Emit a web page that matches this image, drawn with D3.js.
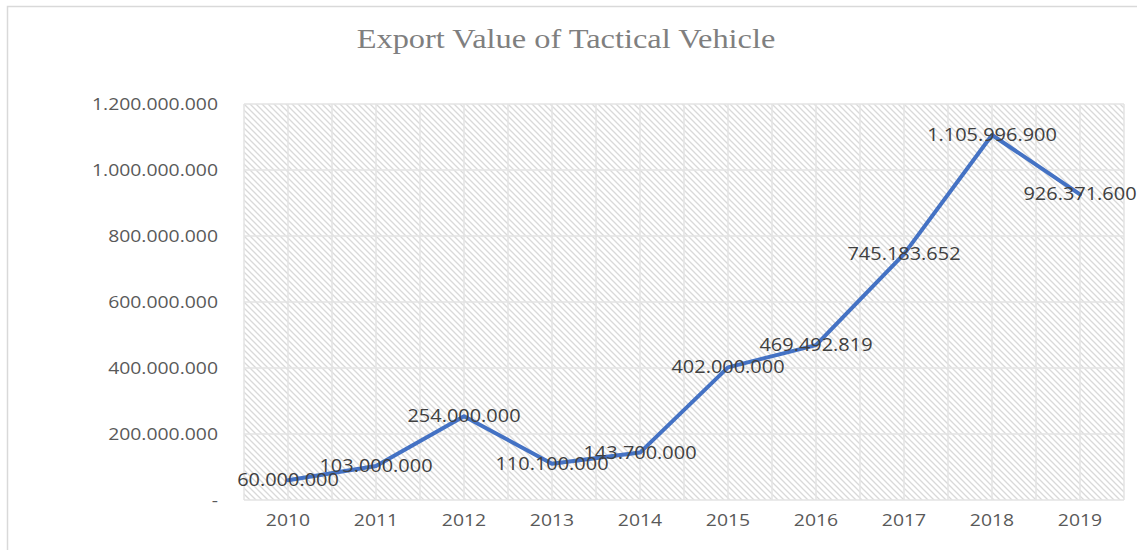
<!DOCTYPE html>
<html>
<head>
<meta charset="utf-8">
<script src="https://d3js.org/d3.v7.min.js"></script>
<style>
body { margin: 0; background: #fff; }
.axis text { font-family: "Open Sans", sans-serif; font-size: 17px; fill: #595959; }
.axis path, .axis line { display: none; }
.label { font-family: "Open Sans", sans-serif; font-size: 17.5px; fill: #404040; }
</style>
</head>
<body>
<div id="container"></div>
<script>
var years = ["2010", "2011", "2012", "2013", "2014", "2015", "2016", "2017", "2018", "2019"];
var values = [60000000, 103000000, 254000000, 110100000, 143700000, 402000000, 469492819, 745183652, 1105996900, 926371600];
var yTicks = [0, 200000000, 400000000, 600000000, 800000000, 1000000000, 1200000000];

var width = 1137, height = 550;
var margin = {top: 104, right: 13, bottom: 50, left: 244};
var innerW = width - margin.left - margin.right,
    innerH = height - margin.top - margin.bottom;
var stretch = 1.14;  // the source picture is a bit wider than tall

var svg = d3.select("#container").append("svg")
    .attr("width", width)
    .attr("height", height);

var defs = svg.append("defs");
var pat = defs.append("pattern")
    .attr("id", "hatch")
    .attr("patternUnits", "userSpaceOnUse")
    .attr("width", 6)
    .attr("height", 6);
pat.append("rect").attr("width", 6).attr("height", 6).attr("fill", "#fff");
pat.append("path")
    .attr("d", "M-1,-1 L7,7 M-1,5 L1,7 M5,-1 L7,1")
    .attr("stroke", "#d9d9d9")
    .attr("stroke-width", 1.3);

// chart border
svg.append("rect")
    .attr("x", 7.5).attr("y", 6.5)
    .attr("width", width).attr("height", height)
    .attr("fill", "none")
    .attr("stroke", "#d9d9d9")
    .attr("stroke-width", 1.5);

svg.append("text")
    .attr("transform", "translate(566,48) scale(1.2,1)")
    .attr("text-anchor", "middle")
    .style("font-family", "'Liberation Serif', 'Times New Roman', serif")
    .style("font-size", "27px")
    .style("fill", "#7f7f7f")
    .text("Export Value of Tactical Vehicle");

var x = d3.scaleBand().domain(years).range([0, innerW]);
var y = d3.scaleLinear().domain([0, 1200000000]).range([innerH, 0]);

var g = svg.append("g")
    .attr("transform", "translate(" + margin.left + "," + margin.top + ")");

g.append("rect")
    .attr("width", innerW)
    .attr("height", innerH)
    .attr("fill", "url(#hatch)");

// vertical gridlines at band edges and centres
var vx = [];
years.forEach(function(d) { vx.push(x(d)); vx.push(x(d) + x.bandwidth() / 2); });
vx.push(innerW);
g.selectAll("line.vgrid")
    .data(vx)
    .enter().append("line")
    .attr("class", "vgrid")
    .attr("x1", function(d) { return d; })
    .attr("x2", function(d) { return d; })
    .attr("y1", 0).attr("y2", innerH)
    .attr("stroke", "#e3e3e3")
    .attr("stroke-width", 1.5);

g.selectAll("line.hgrid")
    .data(yTicks)
    .enter().append("line")
    .attr("class", "hgrid")
    .attr("x1", 0).attr("x2", innerW)
    .attr("y1", function(d) { return y(d); })
    .attr("y2", function(d) { return y(d); })
    .attr("stroke", "#e3e3e3")
    .attr("stroke-width", 1.5);

var fmt = function(d) {
  if (d === 0) return "-";
  return d3.format(",")(d).replace(/,/g, ".");
};

g.append("g")
    .attr("class", "axis")
    .call(d3.axisLeft(y).tickValues(yTicks).tickSize(0).tickFormat(fmt))
    .selectAll("text")
    .attr("x", -26 / stretch)
    .attr("transform", "scale(" + stretch + ",1)");

g.append("g")
    .attr("class", "axis")
    .attr("transform", "translate(0," + innerH + ")")
    .call(d3.axisBottom(x).tickSize(0).tickPadding(14))
    .selectAll("text")
    .attr("transform", "scale(" + stretch + ",1)");

var line = d3.line()
    .x(function(d, i) { return x(years[i]) + x.bandwidth() / 2; })
    .y(function(d) { return y(d); });

g.append("path")
    .datum(values)
    .attr("d", line)
    .attr("fill", "none")
    .attr("stroke", "#4472c4")
    .attr("stroke-width", 4)
    .attr("stroke-linejoin", "round")
    .attr("stroke-linecap", "round");

g.selectAll("text.label")
    .data(values)
    .enter().append("text")
    .attr("class", "label")
    .attr("transform", function(d, i) {
      return "translate(" + (x(years[i]) + x.bandwidth() / 2) + "," + y(d) + ") scale(" + stretch + ",1)";
    })
    .attr("dy", "0.35em")
    .attr("text-anchor", "middle")
    .text(fmt);
</script>
</body>
</html>
